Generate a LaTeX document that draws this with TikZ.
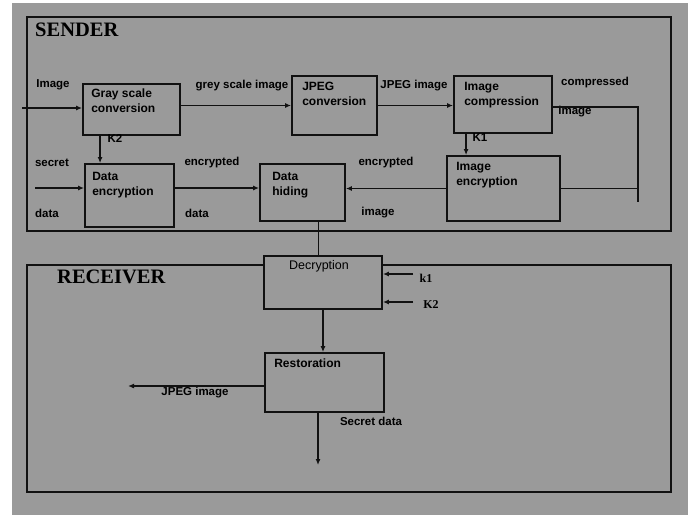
\documentclass[tikz,border=0pt]{standalone}
\usepackage{fontspec}
\setmainfont{Liberation Serif}
\newfontfamily\lblfont{Liberation Sans}
\usetikzlibrary{positioning,arrows.meta,calc}
\definecolor{bggray}{HTML}{9A9A9A}
\definecolor{lineblack}{HTML}{111111}

\begin{document}
\begin{tikzpicture}[x=1pt,y=-1pt,
      frame/.style={draw=lineblack,line width=2.8pt},
      procbox/.style={draw=lineblack,line width=1.9pt,fill=bggray,inner sep=0pt},
      boxtxt/.style={anchor=north west,inner sep=0pt,align=left,
                  font=\lblfont\fontsize{12}{15}\selectfont\bfseries},
      lbl/.style={inner sep=0pt,font=\lblfont\fontsize{11.5}{13}\selectfont\bfseries},
      keylbl/.style={inner sep=0pt,font=\fontsize{12}{13}\selectfont\bfseries},
      titlelbl/.style={anchor=west,inner sep=0pt,font=\fontsize{20.5}{22}\selectfont\bfseries},
      arr/.style={-{Latex[length=6pt,width=5pt]},line width=1.8pt,lineblack},
      wire/.style={line width=1.8pt,lineblack}]
    \useasboundingbox (0,0) rectangle (688,515);
    \fill[white] (0,0) rectangle (688,515);
    \fill[bggray] (12,3) rectangle (688,515);
    % frames
    \draw[frame] (27,17) rectangle (671,231);
    \draw[frame] (27,265) rectangle (671,492);
    \node[titlelbl] (sender) at (35,30) {SENDER};
    \node[titlelbl] (receiver) at (57,277) {RECEIVER};
    % sender boxes
    \node[procbox,minimum width=97,minimum height=51] (gray) at (131.5,109.5) {};
    \node[procbox,minimum width=85,minimum height=59] (jpeg) at (334.5,105.5) {};
    \node[procbox,minimum width=98,minimum height=57] (comp) at (503,104.5) {};
    \node[procbox,minimum width=113,minimum height=65] (imenc) at (503.5,188.5) {};
    \node[procbox,minimum width=89,minimum height=63] (dataenc) at (129.5,195.5) {};
    \node[procbox,minimum width=85,minimum height=57] (hiding) at (302.5,192.5) {};
    \node[boxtxt] (graytxt) at ([shift={(9,6)}]gray.north west) {Gray scale\\conversion};
    \node[boxtxt] (jpegtxt) at ([shift={(11,7)}]jpeg.north west) {JPEG\\conversion};
    \node[boxtxt] (comptxt) at ([shift={(11,7)}]comp.north west) {Image\\compression};
    \node[boxtxt] (imenctxt) at ([shift={(10,7)}]imenc.north west) {Image\\encryption};
    \node[boxtxt] (dataenctxt) at ([shift={(8,9)}]dataenc.north west) {Data\\encryption};
    \node[boxtxt] (hidingtxt) at ([shift={(13,9)}]hiding.north west) {Data\\hiding};
    % receiver boxes
    \node[procbox,minimum width=118,minimum height=53] (decr) at (323,282.5) {};
    \node[procbox,minimum width=119,minimum height=59] (rest) at (324.5,382.5) {};
    \node[anchor=north,inner sep=0pt,font=\lblfont\fontsize{12.5}{14}\selectfont] (decrtxt)
      at ([shift={(-4,5)}]decr.north) {Decryption};
    \node[boxtxt] (resttxt) at ([shift={(10,7)}]rest.north west) {Restoration};
    % outside labels
    \node[lbl] (lblimg) at (53,85) {Image};
    \node[lbl] (lblgrey) at (242,86) {grey scale image};
    \node[lbl] (lbljpeg) at (414,86) {JPEG image};
    \node[lbl] (lblcompa) at (595,83) {compressed};
    \node[lbl] (lblcompb) at (575,112) {image};
    \node[lbl] (lblk2) at (115,138) {K2};
    \node[lbl] (lblk1) at (480,138) {K1};
    \node[lbl] (lblseca) at (52,163) {secret};
    \node[lbl] (lblsecb) at (47,213) {data};
    \node[lbl] (lblenca) at (212,163) {encrypted};
    \node[lbl] (lblencb) at (197,213) {data};
    \node[lbl] (lblencia) at (386,163) {encrypted};
    \node[lbl] (lblencib) at (378,213) {image};
    \node[keylbl] (lblrk1) at (426,278) {k1};
    \node[keylbl] (lblrk2) at (431,305) {K2};
    \node[lbl] (lbljpgout) at (195,393) {JPEG image};
    \node[lbl] (lblsecout) at (371,421) {Secret data};
    % free ends
    \coordinate (imgin) at (22,108);
    \coordinate (secin) at (35,188);
    \coordinate (rtop) at (638,107);
    \coordinate (rbot) at (638,202);
    \coordinate (k1in) at (413,274);
    \coordinate (k2in) at (413,302);
    \coordinate (jpgout) at (128,386);
    \coordinate (secout) at (318,465);
    % sender flow
    \draw[arr] (imgin) -- (imgin -| gray.west);
    \draw[arr] (jpeg.west -| gray.east) -- (jpeg.west);
    \draw[arr] (jpeg.east) -- (jpeg.east -| comp.west);
    \draw[wire] (comp.east |- rtop) -- (rtop) -- (rbot);
    \draw[wire] (imenc.east) -- (imenc.east -| rtop);
    \draw[arr] ([xshift=13]comp.south west) -- ([xshift=13]comp.south west |- imenc.north);
    \draw[arr] ([xshift=18]gray.south west) -- ([xshift=18]gray.south west |- dataenc.north);
    \draw[arr] (secin) -- (secin -| dataenc.west);
    \draw[arr] (secin -| dataenc.east) -- (secin -| hiding.west);
    \draw[arr] (imenc.west) -- (imenc.west -| hiding.east);
    \draw[wire] ([xshift=16]hiding.south) -- ([xshift=16]hiding.south |- decr.north);
    % receiver flow
    \draw[arr] (k1in) -- (k1in -| decr.east);
    \draw[arr] (k2in) -- (k2in -| decr.east);
    \draw[arr] (decr.south) -- (decr.south |- rest.north);
    \draw[arr] (rest.west |- jpgout) -- (jpgout);
    \draw[arr] (rest.south -| secout) -- (secout);
\end{tikzpicture}
\end{document}
